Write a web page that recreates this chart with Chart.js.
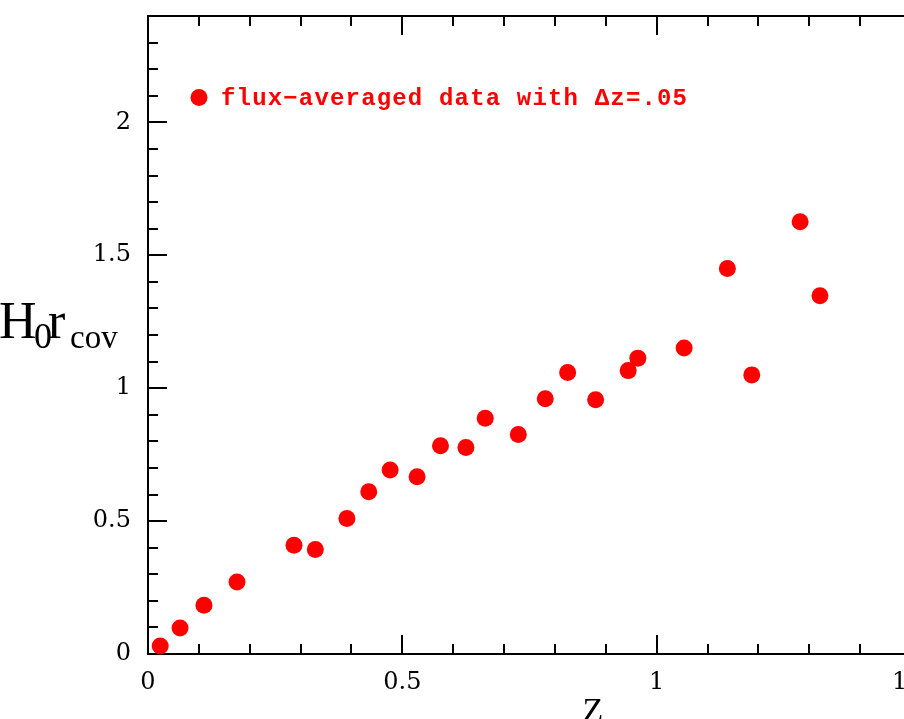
<!DOCTYPE html>
<html><head><meta charset="utf-8">
<script src="https://cdn.jsdelivr.net/npm/chart.js@4"></script>
<style>
html,body{margin:0;padding:0;overflow:hidden;background:#fff;width:904px;height:719px}
#wrap{position:absolute;left:0;top:0;width:940px;height:719px}
</style></head>
<body><div id="wrap"><canvas id="c" width="940" height="719"></canvas></div>
<script>
// ---- data ----
const zValues   = [0.024,0.063,0.110,0.175,0.287,0.329,0.391,0.434,0.476,0.529,0.575,0.625,0.663,0.728,0.781,0.825,0.880,0.944,0.963,1.054,1.139,1.187,1.282,1.321];
const h0rValues = [0.030,0.098,0.183,0.271,0.409,0.393,0.510,0.610,0.692,0.667,0.783,0.777,0.887,0.826,0.960,1.059,0.956,1.066,1.113,1.151,1.450,1.050,1.626,1.348];
const seriesLabel = 'flux\u2212averaged data with \u0394z=.05';
const xTickLabels = ['0','0.5','1','1.5'];
const yTickLabels = ['0','0.5','1','1.5','2'];
const xRange = [0, 1.5];
const yRange = [0, 2.4];

const points = zValues.map((z,i)=>({x:z,y:h0rValues[i]}));

function majorLabel(labels){
  return function(v){
    const k = v*2;
    if (Math.abs(k-Math.round(k))<1e-6){ return labels[Math.round(k)] ?? ''; }
    return '';
  };
}
function isMajor(v){ const k=v*2; return Math.abs(k-Math.round(k))<1e-6; }

const framePlugin = {
  id:'frame',
  beforeDatasetsDraw(chart){
    const {ctx, chartArea:a, scales:{x,y}} = chart;
    ctx.save();
    ctx.strokeStyle='#000';
    ctx.lineWidth=2;
    ctx.lineCap='butt';
    ctx.strokeRect(a.left, a.top, a.right-a.left, a.bottom-a.top);
    ctx.beginPath();
    x.ticks.forEach(t=>{
      const px = Math.round(x.getPixelForValue(t.value));
      const len = isMajor(t.value)?19:10;
      ctx.moveTo(px, a.bottom); ctx.lineTo(px, a.bottom-len);
      ctx.moveTo(px, a.top); ctx.lineTo(px, a.top+len);
    });
    y.ticks.forEach(t=>{
      const py = Math.round(y.getPixelForValue(t.value));
      const len = isMajor(t.value)?19:10;
      ctx.moveTo(a.left, py); ctx.lineTo(a.left+len, py);
    });
    ctx.stroke();
    ctx.restore();
  },
  afterDraw(chart){
    const {ctx} = chart;
    ctx.save();
    // legend
    ctx.fillStyle='#ff0000';
    ctx.beginPath(); ctx.arc(199,97.5,8.5,0,Math.PI*2); ctx.fill();
    ctx.font='bold 24px "Liberation Mono"';
    ctx.textBaseline='alphabetic';
    ctx.textAlign='left';
    const w = ctx.measureText(seriesLabel).width;
    const target = 466;
    ctx.letterSpacing = ((target - w)/(seriesLabel.length-1)).toFixed(2)+'px';
    ctx.fillText(seriesLabel, 221, 105);
    ctx.letterSpacing='0px';
    // axis titles
    ctx.fillStyle='#000';
    ctx.font='52px "Liberation Serif"';
    ctx.fillText('H', -1, 338);
    ctx.font='36px "Liberation Serif"';
    ctx.fillText('0', 34, 348);
    ctx.font='52px "Liberation Serif"';
    ctx.fillText('r', 48, 338);
    ctx.font='33px "Liberation Serif"';
    ctx.fillText('cov', 70, 348);
    ctx.font='34px "Liberation Serif"';
    ctx.textAlign='center';
    ctx.fillText('Z', 593, 721);
    ctx.restore();
  }
};

new Chart(document.getElementById('c'), {
  type:'scatter',
  data:{datasets:[{
    label: seriesLabel,
    data: points,
    backgroundColor:'#ff0000',
    borderWidth:0,
    pointRadius:8.5,
    pointHoverRadius:8.5,
    clip:false
  }]},
  options:{
    responsive:false,
    animation:false,
    events:[],
    layout:{padding:{left:0,top:16,right:29,bottom:0}},
    plugins:{legend:{display:false},tooltip:{enabled:false}},
    scales:{
      x:{
        type:'linear', min:xRange[0], max:xRange[1],
        grid:{display:false, drawTicks:false},
        border:{display:false},
        ticks:{stepSize:0.1, autoSkip:false, maxRotation:0, padding:14,
          color:'#000', font:{family:'"DejaVu Serif"', size:24},
          callback: majorLabel(xTickLabels)},
        afterFit(s){ s.height = 65; s.paddingLeft = 0; s.paddingRight = 0; }
      },
      y:{
        type:'linear', min:yRange[0], max:yRange[1],
        grid:{display:false, drawTicks:false},
        border:{display:false},
        ticks:{stepSize:0.1, autoSkip:false, padding:17,
          color:'#000', font:{family:'"DejaVu Serif"', size:24},
          callback: majorLabel(yTickLabels)},
        afterFit(s){ s.width = 148; s.paddingTop = 0; s.paddingBottom = 0; }
      }
    }
  },
  plugins:[framePlugin]
});
</script>
</body></html>
